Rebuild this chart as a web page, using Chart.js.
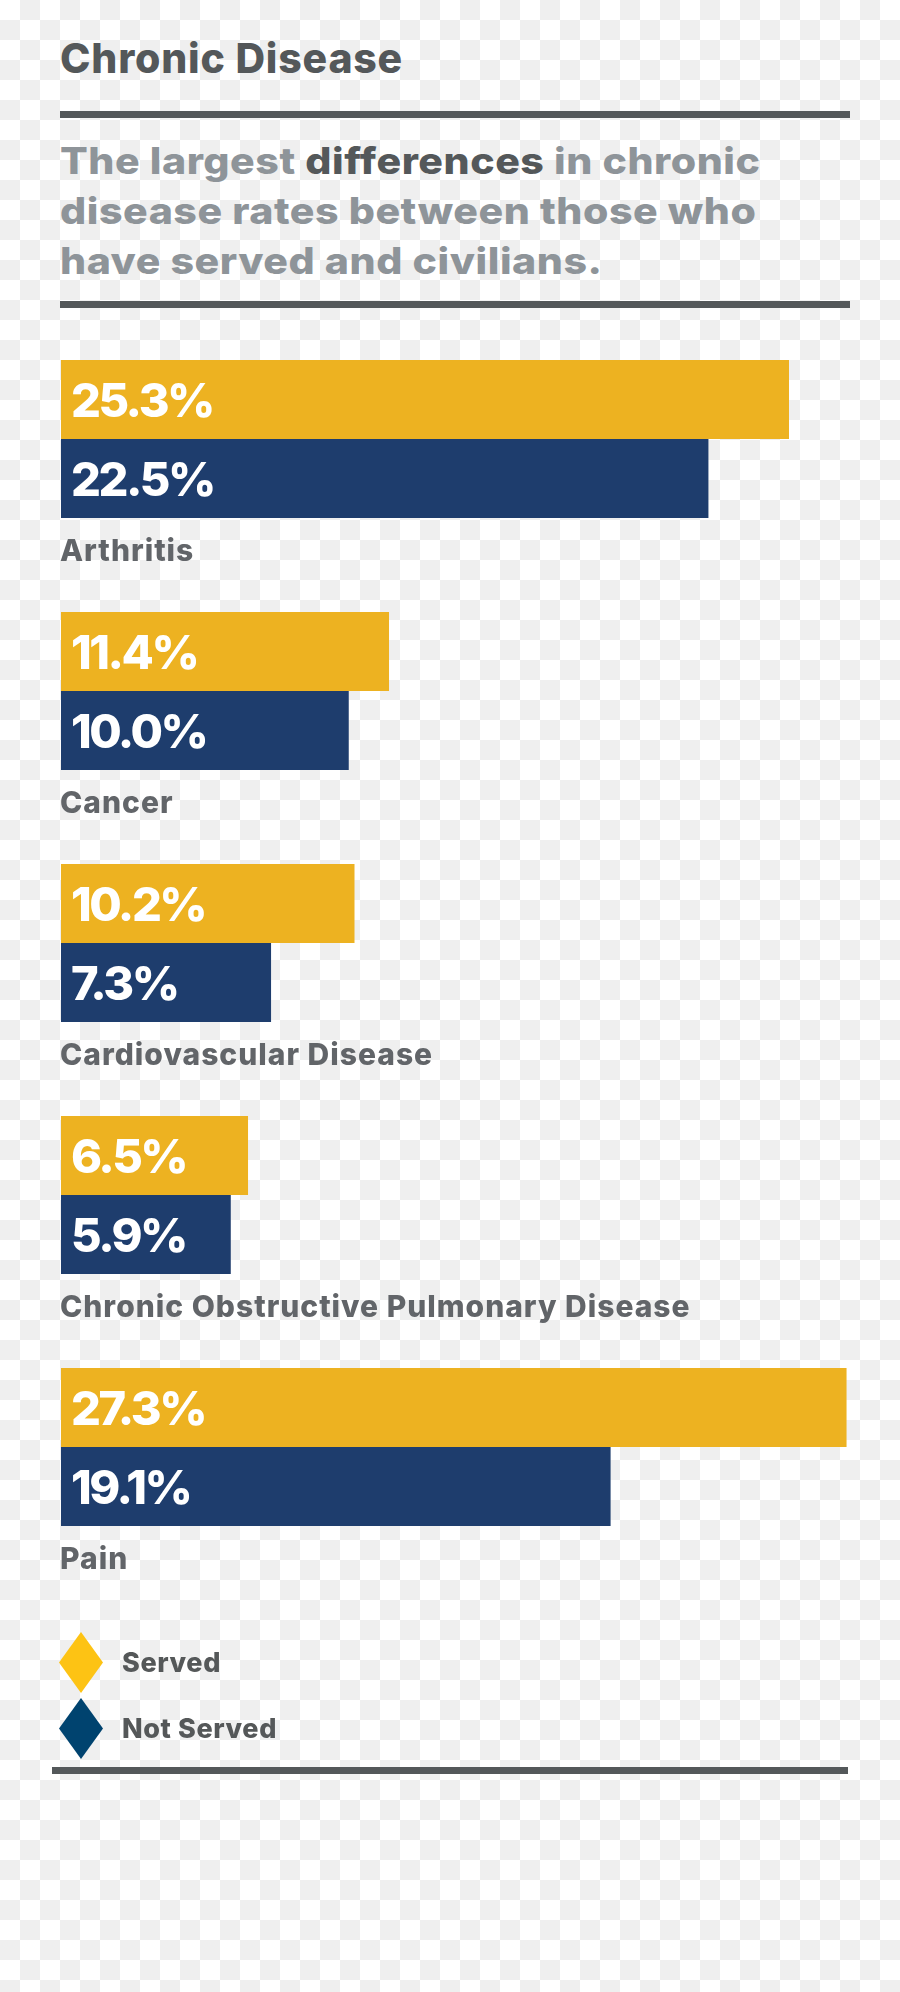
<!DOCTYPE html>
<html>
<head>
<meta charset="utf-8">
<script src="https://cdn.jsdelivr.net/npm/chart.js@4.4.1/dist/chart.umd.min.js"></script>
<style>
  html, body {
    margin: 0;
    padding: 0;
  }
  body {
    width: 900px;
    height: 1992px;
    position: relative;
    overflow: hidden;
    background: repeating-conic-gradient(#efefef 0 25%, #ffffff 0 50%) 0 0 / 40px 40px;
    font-family: Inter, "Liberation Sans", sans-serif;
  }
  #title {
    position: absolute;
    left: 60px;
    top: 38px;
    font-size: 41px;
    line-height: 41px;
    font-weight: 800;
    color: #54585a;
    letter-spacing: 0.8px;
    white-space: nowrap;
  }
  #subtitle {
    position: absolute;
    left: 60px;
    top: 136px;
    font-size: 37px;
    line-height: 50px;
    font-weight: 800;
    color: #8e9499;
    letter-spacing: 0.5px;
    white-space: nowrap;
    transform: scaleX(1.11);
    transform-origin: 0 0;
  }
  #subtitle b { color: #54585a; font-weight: 800; }
  .rule {
    position: absolute;
    height: 7px;
    background: #54585a;
  }
  #chartWrap {
    position: absolute;
    left: 0;
    top: 0;
  }
  .legendItem {
    position: absolute;
    left: 59px;
    height: 61px;
    width: 300px;
  }
  .legendItem .mark {
    position: absolute;
    left: 0;
    top: 0;
    width: 44px;
    height: 61px;
    clip-path: polygon(50% 0, 100% 50%, 50% 100%, 0 50%);
  }
  .legendItem .txt {
    position: absolute;
    left: 63px;
    top: 16px;
    font-size: 27px;
    line-height: 30px;
    font-weight: 800;
    color: #555859;
    letter-spacing: 0.6px;
    white-space: nowrap;
  }
</style>
</head>
<body>
<div id="title">Chronic Disease</div>
<div class="rule" style="left:60px; top:111px; width:790px;"></div>
<div id="subtitle">The largest <b>differences</b> in chronic<br>disease rates between those who<br>have served and civilians.</div>
<div class="rule" style="left:60px; top:301px; width:790px;"></div>

<div id="chartWrap"><canvas id="chart" width="900" height="1992"></canvas></div>

<div id="legend"></div>
<div class="rule" style="left:52px; top:1767px; width:796px;"></div>

<script>
const categories = ["Arthritis", "Cancer", "Cardiovascular Disease", "Chronic Obstructive Pulmonary Disease", "Pain"];
const seriesNames = ["Served", "Not Served"];
const servedValues = [25.3, 11.4, 10.2, 6.5, 27.3];
const notServedValues = [22.5, 10.0, 7.3, 5.9, 19.1];

const barColors = ["#edb221", "#1e3d6d"];
const legendColors = ["#fdc314", "#00436f"];

// value inside each bar + category name under each pair
const barLabels = {
  id: "barLabels",
  afterDatasetsDraw(chart) {
    const ctx = chart.ctx;
    ctx.save();
    ctx.font = "800 47px Inter, 'Liberation Sans', sans-serif";
    ctx.letterSpacing = "-2.5px";
    ctx.fillStyle = "#ffffff";
    ctx.textAlign = "left";
    ctx.textBaseline = "alphabetic";
    chart.data.datasets.forEach((ds, di) => {
      const meta = chart.getDatasetMeta(di);
      meta.data.forEach((bar, i) => {
        const txt = ds.data[i].toFixed(1) + "%";
        ctx.fillText(txt, bar.base + 10, bar.y + 17);
      });
    });

    ctx.font = "800 30px Inter, 'Liberation Sans', sans-serif";
    ctx.letterSpacing = "1px";
    ctx.fillStyle = "#626569";
    const last = chart.getDatasetMeta(1);
    last.data.forEach((bar, i) => {
      const bottom = bar.y + bar.height / 2;
      ctx.fillText(categories[i], bar.base - 1, bottom + 43);
    });
    ctx.restore();
  }
};

new Chart(document.getElementById("chart"), {
  type: "bar",
  data: {
    labels: categories,
    datasets: [
      {
        label: seriesNames[0],
        data: servedValues,
        backgroundColor: barColors[0],
        barPercentage: 1.0,
        categoryPercentage: 158 / 252
      },
      {
        label: seriesNames[1],
        data: notServedValues,
        backgroundColor: barColors[1],
        barPercentage: 1.0,
        categoryPercentage: 158 / 252
      }
    ]
  },
  options: {
    indexAxis: "y",
    responsive: false,
    animation: false,
    layout: {
      padding: { left: 61, right: 50, top: 313, bottom: 419 }
    },
    scales: {
      x: { display: false, min: 0, max: 27.42 },
      y: { display: false }
    },
    plugins: {
      legend: { display: false },
      tooltip: { enabled: false }
    }
  },
  plugins: [barLabels]
});

// html legend
const legend = document.getElementById("legend");
seriesNames.forEach((name, i) => {
  const item = document.createElement("div");
  item.className = "legendItem";
  item.style.top = (1632 + i * 66) + "px";
  item.innerHTML = '<div class="mark" style="background:' + legendColors[i] + '"></div><div class="txt">' + name + '</div>';
  legend.appendChild(item);
});
</script>
</body>
</html>
